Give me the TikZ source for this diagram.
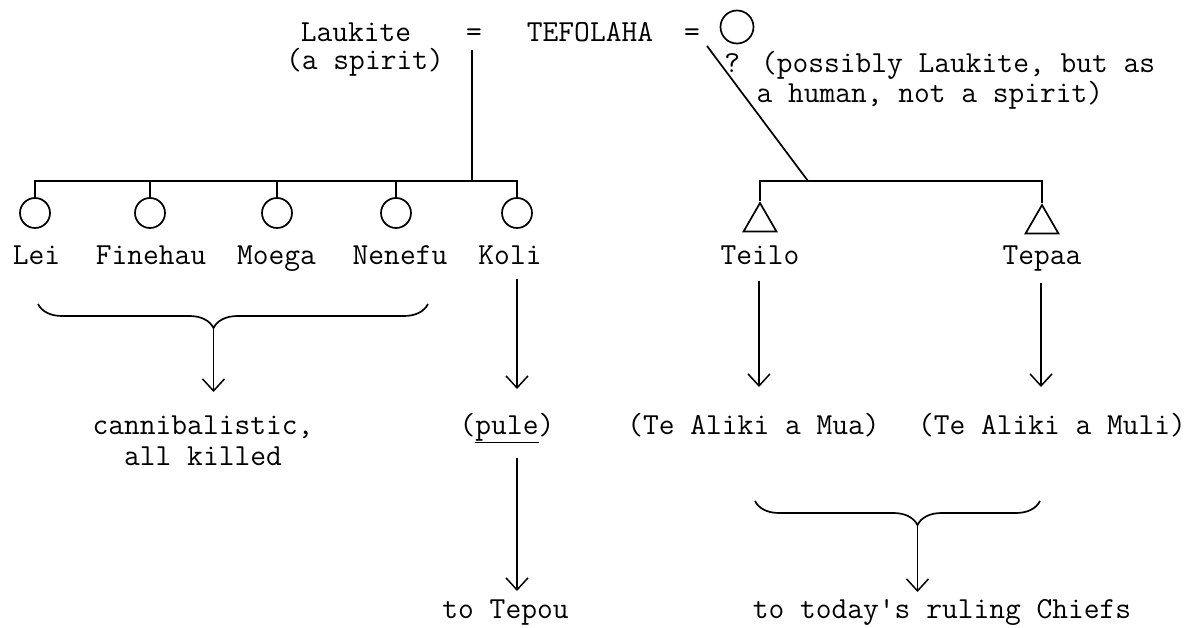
\documentclass[tikz,border=0pt]{standalone}
\usepackage{fontspec}
\usetikzlibrary{arrows.meta,shapes.geometric,decorations.pathreplacing}
\newcommand\typefont{\ttfamily\fontsize{30.6}{36}\selectfont}
\begin{document}
\begin{tikzpicture}[x=1pt,y=-1pt,
  line width=1.7pt,
  txt/.style={inner sep=0pt,anchor=base,font=\typefont},
  fem/.style={draw,circle,minimum size=30pt,inner sep=0pt},
  mal/.style={draw,regular polygon,regular polygon sides=3,minimum size=38pt,inner sep=0pt},
  arr/.style={-{Straight Barb[length=12pt,width=22pt]},line width=1.5pt},
  brc/.style={decorate,decoration={brace,mirror,amplitude=24pt,aspect=#1}}]
\useasboundingbox (0,0) rectangle (1194,628);
% top row
\node[txt] (lauk) at (356,42) {Laukite};
\node[txt] (spirit) at (365,70) {(a spirit)};
\node[txt] (eqa) at (474,42) {=};
\node[txt] (tef) at (590,42) {TEFOLAHA};
\node[txt] (eqb) at (692,42) {=};
\node[fem,minimum size=33pt] (wife) at (737,27) {};
\node[txt,anchor=base west] (q1) at (723.5,73) {? (possibly Laukite, but as};
\node[txt,anchor=base west] (q2) at (755.7,103) {a human, not a spirit)};
% children of Laukite
\node[fem] (c1) at (35,213) {};
\node[fem] (c2) at (150,213) {};
\node[fem] (c3) at (277,213) {};
\node[fem] (c4) at (396,213) {};
\node[fem] (c5) at (517,213) {};
\node[txt] (lei) at (36.5,265) {Lei};
\node[txt] (fin) at (151,265) {Finehau};
\node[txt] (moe) at (276.5,265) {Moega};
\node[txt] (nen) at (400,265) {Nenefu};
\node[txt] (kol) at (510,265) {Koli};
% children of second marriage
\node[mal] (t1) at (760,222) {};
\node[mal] (t2) at (1042,224) {};
\node[txt] (tei) at (760,265) {Teilo};
\node[txt] (tep) at (1042,265) {Tepaa};
% descent lines
\coordinate (m1) at (472,50);
\coordinate (bar1) at (472,181);
\draw (m1) -- (bar1);
\draw (c1.north) -- (c1.north |- bar1) -- (c5.north |- bar1) -- (c5.north);
\foreach \c in {c2,c3,c4} \draw (\c.north) -- (\c.north |- bar1);
\coordinate (d1) at (707,46);
\coordinate (bar2) at (808,181);
\draw (d1) -- (bar2);
\draw (t1.corner 1) -- (t1.corner 1 |- bar2) -- (t2.corner 1 |- bar2) -- (t2.corner 1);
% lower texts
\node[txt] (can) at (203,434) {cannibalistic,};
\node[txt] (kil) at (203,465) {all killed};
\node[txt] (pul) at (507,434) {(\underline{pule})};
\node[txt] (mua) at (753.5,434) {(Te Aliki a Mua)};
\node[txt] (mul) at (1052,434) {(Te Aliki a Muli)};
\node[txt] (tpo) at (505.5,618) {to Tepou};
\node[txt] (chf) at (942,618) {to today's ruling Chiefs};
% arrows
\coordinate (ka) at (517,279);
\coordinate (kb) at (517,389);
\draw[arr] (ka) -- (kb);
\coordinate (pa) at (517,458);
\coordinate (pb) at (517,591);
\draw[arr] (pa) -- (pb);
\coordinate (ta) at (759,281);
\coordinate (tb) at (759,387);
\draw[arr] (ta) -- (tb);
\coordinate (sa) at (1041,283);
\coordinate (sb) at (1041,387);
\draw[arr] (sa) -- (sb);
% braces
\coordinate (bl1) at (38,304);
\coordinate (bl2) at (428,304);
\draw[brc=0.45] (bl1) -- (bl2);
\coordinate (btl) at (213.5,328);
\coordinate (btle) at (213.5,392);
\draw[arr] (btl) -- (btle);
\coordinate (br1) at (755,501);
\coordinate (br2) at (1040,501);
\draw[brc=0.57] (br1) -- (br2);
\coordinate (btr) at (917.5,525);
\coordinate (btre) at (917.5,592);
\draw[arr] (btr) -- (btre);
\end{tikzpicture}
\end{document}
